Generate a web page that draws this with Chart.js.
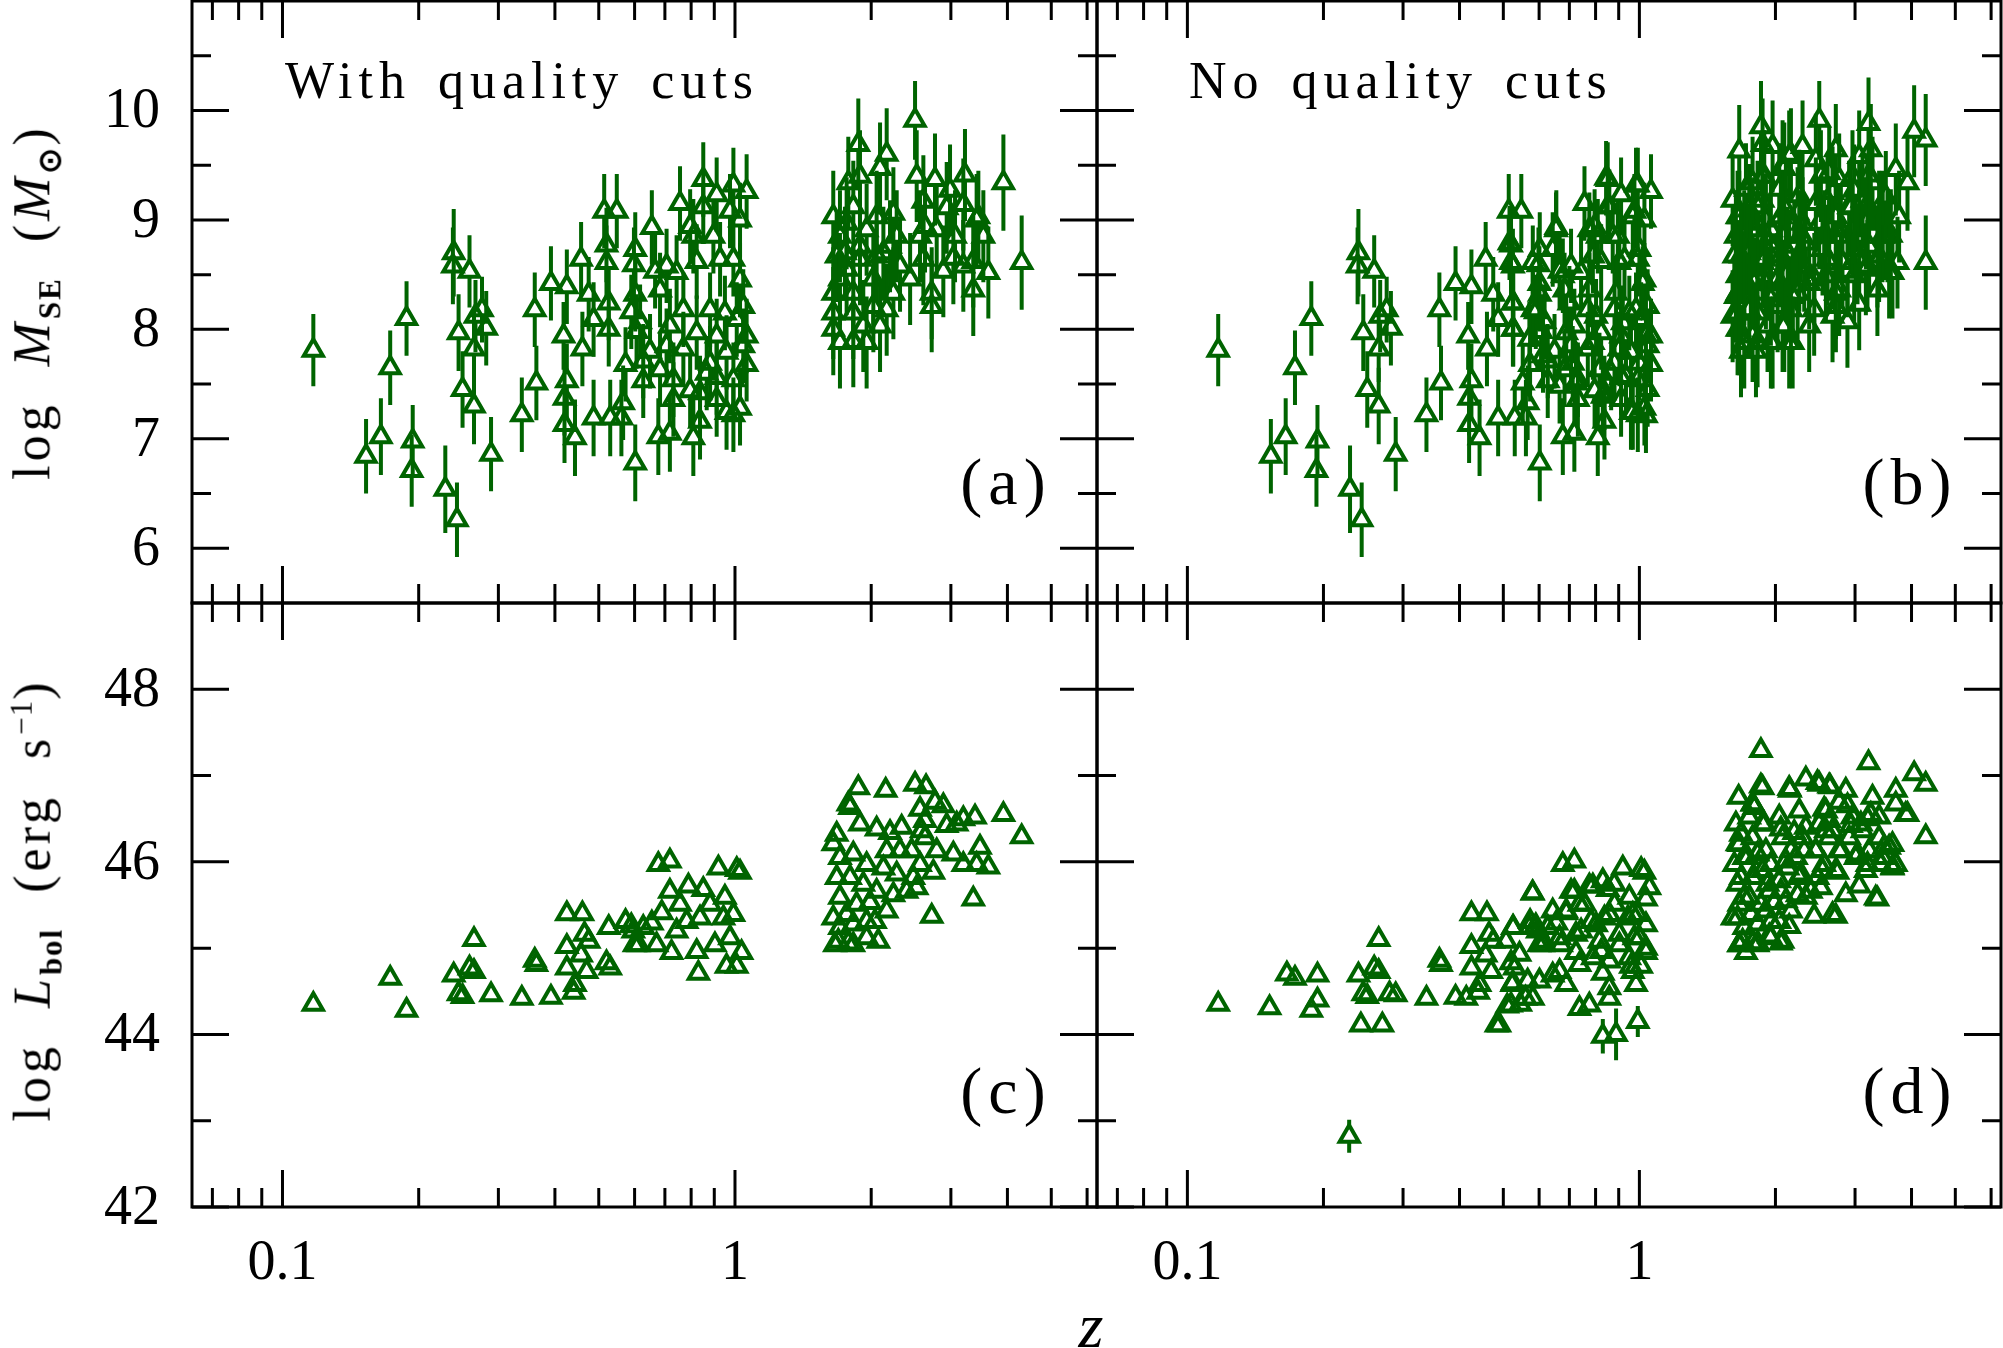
<!DOCTYPE html>
<html>
<head>
<meta charset="utf-8">
<script src="https://cdn.jsdelivr.net/npm/chart.js@4.4.1/dist/chart.umd.min.js"></script>
<style>
  body { margin: 0; background: #fff; }
  #wrap { position: relative; width: 2003px; height: 1348px; overflow: hidden; font-family: "Liberation Serif", serif; color: #000; }
  #wrap canvas { position: absolute; left: 0; top: 0; }
  .txt { position: absolute; white-space: nowrap; line-height: 1; }
  .note { font-size: 52px; letter-spacing: 6px; word-spacing: 8px; top: 55px; }
  .tag { font-size: 66px; letter-spacing: 6px; transform: translate(-50%, -50%); }
  .ytitle { font-size: 52px; letter-spacing: 4px; word-spacing: 18px; transform: translate(-50%, -50%) rotate(-90deg); }
  .ytitle sub { font-size: 31px; font-weight: bold; letter-spacing: 2px; }
  .ytitle sup { font-size: 31px; letter-spacing: 1px; }
</style>
</head>
<body>
<div id="wrap">
  <canvas id="pa" width="2003" height="1348"></canvas>
  <canvas id="pb" width="2003" height="1348"></canvas>
  <canvas id="pc" width="2003" height="1348"></canvas>
  <canvas id="pd" width="2003" height="1348"></canvas>

  <div class="txt note" style="left:285px">With quality cuts</div>
  <div class="txt note" style="left:1189px">No quality cuts</div>
  <div class="txt tag" style="left:1006px; top:482px">(a)</div>
  <div class="txt tag" style="left:1910px; top:482px">(b)</div>
  <div class="txt tag" style="left:1006px; top:1091px">(c)</div>
  <div class="txt tag" style="left:1910px; top:1091px">(d)</div>
  <div class="txt ytitle" style="left:36px; top:302px">log <i>M</i><sub>SE</sub> (<i>M</i><sub>⊙</sub>)</div>
  <div class="txt ytitle" style="left:36px; top:900px">log <i>L</i><sub>bol</sub> (erg s<sup>−1</sup>)</div>
  <div class="txt" style="left:1091px; top:1294px; font-size:64px; font-style:italic; transform:translateX(-50%)">z</div>
</div>

<script>
const GREEN = '#006400';

// redshift axis (log), shared by all panels
const zRange = [0.0631, 6.31];
const zMajor = [0.1, 1];
const zMinor = [0.07, 0.08, 0.09, 0.2, 0.3, 0.4, 0.5, 0.6, 0.7, 0.8, 0.9, 2, 3, 4, 5, 6];
const zLabels = ['0.1', '1'];

// top row: log M_SE
const mRange = [5.5, 11];
const mMajor = [6, 7, 8, 9, 10];
const mMinor = [6.5, 7.5, 8.5, 9.5, 10.5];
const mLabels = ['6', '7', '8', '9', '10'];

// bottom row: log L_bol
const lRange = [42, 49];
const lMajor = [42, 44, 46, 48];
const lMinor = [43, 45, 47];
const lLabels = ['42', '44', '46', '48'];

// (a) with quality cuts: [z, log M, error]
const massCut = [
  [0.117,7.81,0.33],[0.153,6.84,0.34],[0.165,7.02,0.35],[0.173,7.65,0.34],[0.188,8.10,0.34],
  [0.194,6.98,0.33],[0.193,6.71,0.33],[0.229,6.54,0.40],[0.243,6.26,0.34],[0.239,8.70,0.40],
  [0.238,8.58,0.35],[0.245,7.97,0.35],[0.250,7.45,0.35],[0.259,8.53,0.33],[0.265,7.82,0.30],
  [0.265,7.30,0.35],[0.267,8.12,0.33],[0.276,8.18,0.30],[0.282,8.01,0.34],[0.289,6.86,0.34],
  [0.338,7.22,0.34],[0.361,8.18,0.34],[0.364,7.51,0.34],[0.392,8.42,0.34],[0.425,8.39,0.34],
  [0.418,7.94,0.31],[0.425,7.53,0.34],[0.420,7.37,0.34],[0.420,7.13,0.35],[0.443,7.01,0.35],
  [0.457,8.64,0.34],[0.475,8.32,0.34],[0.460,7.82,0.34],[0.487,8.09,0.34],[0.487,7.19,0.35],
  [0.514,9.08,0.34],[0.548,9.08,0.34],[0.520,8.77,0.34],[0.520,8.61,0.34],[0.526,8.24,0.34],
  [0.526,8.00,0.34],[0.530,7.19,0.35],[0.561,7.19,0.35],[0.566,7.33,0.34],[0.573,7.68,0.34],
  [0.598,8.59,0.34],[0.602,8.73,0.34],[0.602,8.32,0.34],[0.590,8.16,0.34],[0.602,6.78,0.35],
  [0.606,7.98,0.34],[0.617,8.07,0.34],[0.627,7.71,0.34],[0.627,7.53,0.34],[0.649,7.80,0.34],
  [0.655,8.93,0.34],[0.666,8.53,0.34],[0.683,8.36,0.34],[0.683,7.63,0.34],[0.677,7.02,0.35],
  [0.706,8.58,0.34],[0.706,7.85,0.34],[0.718,8.03,0.34],[0.718,7.05,0.35],[0.731,7.54,0.34],
  [0.731,7.36,0.34],[0.743,8.52,0.34],[0.756,9.15,0.34],[0.769,8.18,0.34],[0.769,7.82,0.34],
  [0.796,8.94,0.34],[0.796,7.44,0.34],[0.809,8.85,0.34],[0.809,7.01,0.35],[0.823,8.62,0.34],
  [0.823,7.97,0.34],[0.837,7.42,0.34],[0.851,9.37,0.34],[0.851,9.12,0.34],[0.837,7.16,0.35],
  [0.866,7.60,0.34],[0.881,8.18,0.34],[0.881,7.69,0.34],[0.896,8.85,0.34],[0.911,9.23,0.34],
  [0.911,7.94,0.34],[0.911,7.56,0.34],[0.911,7.36,0.34],[0.927,8.64,0.34],[0.950,8.15,0.34],
  [0.958,7.79,0.34],[0.958,7.24,0.34],[0.975,9.08,0.34],[0.992,9.32,0.34],[0.992,8.64,0.34],
  [0.992,7.54,0.34],[0.992,7.22,0.34],[1.009,8.09,0.34],[1.026,9.00,0.34],[1.026,8.45,0.34],
  [1.026,7.28,0.34],[1.043,8.21,0.34],[1.043,7.85,0.34],[1.061,9.26,0.34],[1.061,7.94,0.34],
  [1.061,7.68,0.34],
  [1.873,9.69,0.42],[2.500,9.91,0.36],[2.164,9.60,0.42],[2.092,9.47,0.42],[1.889,9.40,0.42],
  [1.780,9.34,0.42],[2.767,9.37,0.42],[3.223,9.41,0.42],[2.521,9.40,0.42],[3.919,9.34,0.44],
  [4.301,8.61,0.43],[3.450,9.03,0.42],[3.630,8.52,0.42],[3.362,8.36,0.42],[3.362,8.62,0.42],
  [3.196,9.14,0.42],[2.937,9.11,0.42],[3.064,8.85,0.42],[3.038,8.65,0.42],[3.196,8.58,0.42],
  [2.887,8.53,0.42],[2.721,8.33,0.42],[2.721,8.21,0.42],[2.608,8.64,0.42],[2.630,8.94,0.42],
  [2.608,9.17,0.42],[2.438,8.46,0.42],[2.239,8.33,0.42],[2.164,8.18,0.42],[2.022,8.21,0.42],
  [1.921,8.03,0.42],[1.826,7.89,0.42],[1.954,7.88,0.42],[1.706,7.88,0.42],[1.649,8.15,0.42],
  [1.649,8.33,0.42],[1.678,8.67,0.42],[1.649,9.03,0.42],[1.765,8.97,0.42],[1.826,9.12,0.42],
  [1.954,8.91,0.42],[2.056,9.03,0.42],[2.239,9.06,0.42],[2.277,8.85,0.42],[2.128,8.70,0.42],
  [1.889,8.64,0.42],[1.765,8.55,0.42],[2.022,8.46,0.42],[1.826,8.33,0.42],[2.316,8.58,0.42],
  [2.564,8.85,0.42],[2.791,8.91,0.42],[3.420,9.00,0.42],[3.539,8.85,0.42],[2.987,9.27,0.42],
  [1.750,8.70,0.42],[1.706,8.85,0.42],[1.889,8.76,0.42],[2.056,8.67,0.42],[2.201,8.76,0.42],
  [1.706,8.46,0.42],[1.826,8.15,0.42],[1.649,8.00,0.42],[2.092,8.03,0.42]
];

// (b) extra objects without quality cuts: [z, log M, error]
const massExtra = [
  [0.844,9.38,0.34],[0.983,9.32,0.34],[0.516,8.79,0.34],[0.525,8.58,0.34],[0.581,8.61,0.34],
  [0.601,8.42,0.34],[0.525,8.24,0.34],[0.581,8.18,0.34],[0.525,8.00,0.34],[0.571,7.91,0.34],
  [0.612,7.76,0.34],[0.643,8.73,0.34],[0.654,8.91,0.34],[0.677,8.49,0.34],[0.700,8.24,0.34],
  [0.689,7.97,0.34],[0.712,7.69,0.34],[0.724,7.51,0.34],[0.775,8.91,0.34],[0.789,8.67,0.34],
  [0.775,8.36,0.34],[0.802,8.12,0.34],[0.789,7.88,0.34],[0.816,7.63,0.34],[0.830,7.39,0.34],
  [0.858,9.12,0.34],[0.873,8.85,0.34],[0.903,8.61,0.34],[0.888,8.33,0.34],[0.919,8.06,0.34],
  [0.903,7.82,0.34],[0.934,7.57,0.34],[0.967,9.03,0.34],[1.000,8.73,0.34],[1.017,8.42,0.34],
  [0.983,8.18,0.34],[1.034,7.94,0.34],[1.000,7.69,0.34],[1.043,7.45,0.34],[0.967,7.24,0.34],
  [1.034,7.21,0.34],[0.666,7.48,0.34],[0.552,7.51,0.34],
  [1.858,9.85,0.42],[3.213,9.88,0.42],[4.054,9.81,0.42],[4.300,9.73,0.42],[1.663,9.63,0.42],
  [3.692,9.46,0.42],[3.509,9.21,0.42],[3.600,8.86,0.42],[3.569,8.52,0.42],[3.064,8.23,0.42],
  [2.886,8.07,0.42],[2.675,8.12,0.42],[2.436,8.18,0.42],[1.678,7.80,0.42],[1.811,7.80,0.42],
  [2.183,7.88,0.42],[2.074,8.03,0.42],[1.608,8.12,0.42],[1.971,9.67,0.42],[2.145,9.58,0.42],
  [2.296,9.67,0.42],[2.720,9.64,0.42],[3.064,9.58,0.42],[3.251,9.64,0.42],[1.873,9.40,0.42],
  [2.074,9.49,0.42],[2.457,9.55,0.42],[2.630,9.43,0.42],[2.961,9.40,0.42],[3.279,9.34,0.42],
  [1.608,9.18,0.42],[1.663,9.03,0.42],[1.635,8.85,0.42],[1.622,8.67,0.42],[1.649,8.49,0.42],
  [1.635,8.30,0.42],[1.663,8.00,0.42],[1.721,9.28,0.42],[1.750,9.09,0.42],[1.780,8.91,0.42],
  [1.735,8.73,0.42],[1.765,8.58,0.42],[1.795,8.42,0.42],[1.750,8.18,0.42],[1.780,7.94,0.42],
  [1.873,9.18,0.42],[1.905,9.00,0.42],[1.938,8.79,0.42],[1.873,8.61,0.42],[1.905,8.42,0.42],
  [1.954,8.27,0.42],[1.971,7.88,0.42],[2.039,9.28,0.42],[2.109,9.09,0.42],[2.074,8.85,0.42],
  [2.145,8.67,0.42],[2.109,8.49,0.42],[2.183,8.30,0.42],[2.258,9.22,0.42],[2.296,8.97,0.42],
  [2.335,8.79,0.42],[2.258,8.58,0.42],[2.375,8.42,0.42],[2.457,9.15,0.42],[2.499,8.97,0.42],
  [2.542,8.73,0.42],[2.586,8.49,0.42],[2.675,9.25,0.42],[2.720,9.03,0.42],[2.767,8.85,0.42],
  [2.814,8.61,0.42],[2.767,8.36,0.42],[2.911,9.12,0.42],[2.961,8.91,0.42],[3.012,8.73,0.42],
  [2.987,8.49,0.42],[3.117,9.18,0.42],[3.170,8.97,0.42],[3.223,8.76,0.42],[3.170,8.55,0.42],
  [3.391,9.03,0.42],[3.450,8.85,0.42],[3.391,8.67,0.42],[3.755,9.03,0.42],[3.724,8.61,0.42],
  [2.145,7.88,0.42],[2.375,8.03,0.42]
];

// (c) with quality cuts: [z, log L]
const lumCut = [
  [0.117,44.35],[0.173,44.65],[0.188,44.28],[0.239,44.69],[0.245,44.47],[0.250,44.44],
  [0.259,44.77],[0.265,45.10],[0.265,44.73],[0.289,44.46],[0.338,44.42],[0.361,44.86],
  [0.364,44.81],[0.392,44.43],[0.425,45.40],[0.460,45.40],[0.425,45.02],[0.425,44.77],
  [0.443,44.58],[0.440,44.49],[0.465,45.16],[0.475,45.08],[0.457,44.92],[0.470,44.73],
  [0.526,45.24],[0.520,44.83],[0.530,44.77],[0.573,45.31],[0.590,45.26],[0.600,45.04],
  [0.612,45.04],[0.596,45.20],[0.655,45.29],[0.677,45.97],[0.718,46.01],[0.689,45.41],
  [0.718,45.66],[0.724,44.95],[0.671,45.04],[0.756,45.51],[0.789,45.72],[0.782,45.31],
  [0.823,44.96],[0.830,44.71],[0.851,45.68],[0.837,45.35],[0.881,45.51],[0.903,45.04],
  [0.919,45.93],[0.950,45.59],[0.943,45.35],[0.975,45.12],[0.958,44.79],[1.009,44.79],
  [1.034,44.95],[1.009,45.91],[1.026,45.88],[0.992,45.39],[0.743,45.20],[0.627,45.24],
  [1.873,46.86],[2.153,46.83],[2.500,46.90],[2.644,46.87],[1.780,46.67],[1.796,46.63],
  [2.767,46.69],[2.887,46.65],[2.564,46.61],[2.630,46.48],[3.919,46.55],[4.301,46.29],
  [3.392,46.52],[3.196,46.50],[3.090,46.44],[2.937,46.42],[3.479,46.17],[3.420,45.97],
  [3.630,45.94],[3.362,45.57],[2.721,45.37],[3.196,45.97],[3.038,46.09],[2.791,46.13],
  [2.744,45.88],[2.630,46.28],[2.586,46.36],[1.678,46.32],[1.649,46.21],[1.889,46.44],
  [2.056,46.38],[2.201,46.34],[2.335,46.40],[2.457,46.13],[2.316,46.13],[2.164,46.13],
  [1.706,46.05],[1.826,46.09],[1.954,45.97],[2.128,45.93],[2.277,45.86],[2.478,45.82],
  [2.564,45.97],[1.678,45.82],[1.796,45.82],[1.921,45.74],[2.056,45.66],[2.239,45.62],
  [2.395,45.66],[2.521,45.70],[1.706,45.59],[1.857,45.51],[1.988,45.53],[2.164,45.43],
  [1.649,45.35],[1.765,45.39],[1.706,45.24],[1.826,45.28],[1.954,45.31],[2.039,45.31],
  [1.692,45.08],[1.780,45.06],[1.954,45.12],[2.074,45.08],[1.663,45.04],[1.826,45.04]
];

// (d) extra objects without quality cuts: [z, log L, error]
const lumExtra = [
  [0.152,44.31,0],[0.166,44.70,0],[0.194,44.40,0],[0.194,44.69,0],[0.228,42.82,0.19],
  [0.242,44.11,0],[0.270,44.11,0],[0.280,44.47,0],[0.414,44.42,0],[0.483,44.11,0],
  [0.523,44.58,0],[0.510,44.33,0],[0.580,45.64,0],[0.566,44.62,0],[0.560,44.42,0],
  [0.545,44.35,0],
  [0.581,45.64,0],[1.052,45.70,0],[1.034,45.57,0],[0.983,44.58,0],[0.992,44.15,0.18],
  [0.830,43.98,0.20],[0.888,44.00,0.30],[0.520,44.34,0],[0.525,44.60,0],[0.490,44.11,0],
  [0.581,44.42,0],[0.601,44.62,0],[0.643,44.69,0],[0.689,44.58,0],[0.737,44.30,0],
  [0.775,44.34,0],[0.858,44.42,0],[0.858,44.54,0],[0.706,45.66,0],[0.775,45.72,0],
  [0.830,45.78,0],[0.880,45.74,0],[0.737,45.51,0],[0.643,45.43,0],[0.689,45.43,0],
  [0.525,45.24,0],[0.571,45.24,0],[0.612,45.08,0],[0.666,45.12,0],[0.724,45.16,0],
  [0.802,45.27,0],[0.858,45.39,0],[0.967,45.39,0],[1.034,45.27,0],[1.000,45.12,0],
  [1.034,45.00,0],[0.950,44.89,0],[0.858,44.85,0],[0.789,44.89,0],[0.737,44.81,0],
  [0.666,44.73,0],[0.543,44.93,0],[0.507,45.08,0],[0.967,44.73,0],[0.903,45.16,0],
  [0.816,45.08,0],
  [1.857,47.29,0],[3.213,47.15,0],[4.054,47.02,0],[4.300,46.90,0],[1.658,46.75,0],
  [1.857,46.88,0],[1.780,46.67,0],[2.145,46.85,0],[2.335,46.96,0],[2.478,46.92,0],
  [2.630,46.88,0],[2.862,46.83,0],[3.279,46.75,0],[3.692,46.83,0],[3.692,46.67,0],
  [3.884,46.55,0],[3.630,46.20,0],[3.630,45.93,0],[3.334,45.58,0],[2.675,45.39,0],
  [2.436,45.37,0],[3.064,45.72,0],[2.862,45.62,0],[2.145,45.25,0],[2.056,45.06,0],
  [1.721,44.95,0],[1.663,45.04,0],[1.826,45.06,0],[1.938,45.14,0],[1.608,45.35,0],
  [1.635,46.44,0],[1.663,46.20,0],[1.622,45.97,0],[1.649,45.74,0],[1.663,45.51,0],
  [1.750,46.52,0],[1.780,46.28,0],[1.735,46.05,0],[1.780,45.82,0],[1.750,45.59,0],
  [1.873,46.44,0],[1.905,46.13,0],[1.873,45.90,0],[1.938,45.66,0],[1.905,45.43,0],
  [2.039,46.52,0],[2.074,46.28,0],[2.109,46.01,0],[2.039,45.78,0],[2.109,45.55,0],
  [2.258,46.59,0],[2.296,46.28,0],[2.220,46.05,0],[2.258,45.82,0],[2.335,45.59,0],
  [2.499,46.44,0],[2.457,46.13,0],[2.542,45.90,0],[2.675,46.36,0],[2.767,46.13,0],
  [2.720,45.90,0],[2.911,46.28,0],[3.012,46.05,0],[3.117,46.36,0],[3.223,46.13,0],
  [3.170,45.90,0],[3.391,46.28,0],[3.450,46.05,0],[3.569,46.17,0],[3.692,45.97,0],
  [2.961,46.52,0],[3.251,46.55,0],[2.586,46.59,0]
];

const axisSets = {
  top: { major: mMajor, minor: mMinor, labels: mLabels },
  bottom: { major: lMajor, minor: lMinor, labels: lLabels }
};

const MAJOR = 37;
const MINOR = 19;
const RADIUS = 11;

const errorBars = {
  id: 'errorBars',
  afterDatasetsDraw(chart) {
    const { ctx, chartArea: a, scales: { x, y } } = chart;
    ctx.save();
    ctx.beginPath();
    ctx.rect(a.left, a.top, a.right - a.left, a.bottom - a.top);
    ctx.clip();
    ctx.strokeStyle = GREEN;
    ctx.lineWidth = 4;
    chart.data.datasets.forEach(ds => {
      ds.data.forEach(p => {
        if (!p.e) return;
        const px = x.getPixelForValue(p.x);
        const py = y.getPixelForValue(p.y);
        ctx.beginPath();
        ctx.moveTo(px, y.getPixelForValue(p.y + p.e));
        ctx.lineTo(px, py - RADIUS);
        ctx.moveTo(px, py + RADIUS / 2);
        ctx.lineTo(px, y.getPixelForValue(p.y - p.e));
        ctx.stroke();
      });
    });
    ctx.restore();
  }
};

const frame = {
  id: 'frame',
  afterDraw(chart, args, opts) {
    const { ctx, chartArea: a, scales: { x, y } } = chart;
    const set = axisSets[opts.row];
    ctx.save();
    ctx.strokeStyle = '#000';
    ctx.lineWidth = 3;
    ctx.strokeRect(a.left, a.top, a.right - a.left, a.bottom - a.top);
    ctx.beginPath();
    const xt = (v, len) => {
      const px = x.getPixelForValue(v);
      ctx.moveTo(px, a.bottom); ctx.lineTo(px, a.bottom - len);
      ctx.moveTo(px, a.top); ctx.lineTo(px, a.top + len);
    };
    const yt = (v, len) => {
      const py = y.getPixelForValue(v);
      ctx.moveTo(a.left, py); ctx.lineTo(a.left + len, py);
      ctx.moveTo(a.right, py); ctx.lineTo(a.right - len, py);
    };
    zMajor.forEach(v => xt(v, MAJOR));
    zMinor.forEach(v => xt(v, MINOR));
    set.major.forEach(v => yt(v, MAJOR));
    set.minor.forEach(v => yt(v, MINOR));
    ctx.stroke();

    ctx.fillStyle = '#000';
    ctx.font = '56px "Liberation Serif"';
    if (opts.col === 'left') {
      ctx.textAlign = 'right';
      ctx.textBaseline = 'middle';
      set.major.forEach((v, i) => ctx.fillText(set.labels[i], a.left - 32, y.getPixelForValue(v) + 2));
    }
    if (opts.row === 'bottom') {
      ctx.textAlign = 'center';
      ctx.textBaseline = 'middle';
      zMajor.forEach((v, i) => ctx.fillText(zLabels[i], x.getPixelForValue(v), a.bottom + 57));
    }
    ctx.restore();
  }
};

function panel(id, rows, row, col, yRange) {
  const pad = {
    left: col === 'left' ? 192 : 1097,
    right: col === 'left' ? 906 : 2,
    top: row === 'top' ? 1 : 603,
    bottom: row === 'top' ? 745 : 141
  };
  return new Chart(document.getElementById(id), {
    type: 'scatter',
    data: {
      datasets: [{
        data: rows.map(r => ({ x: r[0], y: r[1], e: r[2] || 0 })),
        pointStyle: 'triangle',
        pointRadius: RADIUS,
        borderWidth: 4,
        borderColor: GREEN,
        backgroundColor: 'rgba(0,0,0,0)'
      }]
    },
    options: {
      responsive: false,
      animation: false,
      devicePixelRatio: 1,
      layout: { padding: pad, autoPadding: false },
      plugins: {
        legend: { display: false },
        tooltip: { enabled: false },
        frame: { row: row, col: col }
      },
      scales: {
        x: { type: 'logarithmic', min: zRange[0], max: zRange[1], display: false },
        y: { type: 'linear', min: yRange[0], max: yRange[1], display: false }
      }
    },
    plugins: [errorBars, frame]
  });
}

panel('pa', massCut, 'top', 'left', mRange);
panel('pb', massCut.concat(massExtra), 'top', 'right', mRange);
panel('pc', lumCut, 'bottom', 'left', lRange);
panel('pd', lumCut.concat(lumExtra), 'bottom', 'right', lRange);
</script>
</body>
</html>
